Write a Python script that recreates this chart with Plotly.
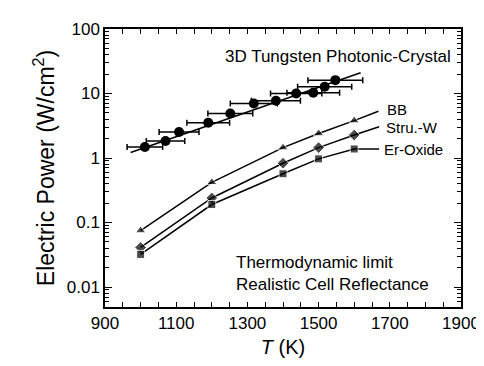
import plotly.graph_objects as go

# --- Data ---
T_model = [1000, 1200, 1400, 1500, 1600]
bb_power = [0.075, 0.42, 1.45, 2.4, 3.8]
struw_power = [0.041, 0.24, 0.83, 1.45, 2.27]
eroxide_power = [0.032, 0.19, 0.57, 0.97, 1.38]

# leader lines from last model point to the label
leader_T = [1668, 1670, 1670]
leader_P = [5.3, 3.06, 1.38]

# 3D tungsten photonic crystal measurements
pc_T = [1012, 1070, 1108, 1190, 1252, 1318, 1380, 1437, 1485, 1517, 1547]
pc_P = [1.48, 1.83, 2.53, 3.53, 4.9, 7.0, 7.7, 10.0, 10.3, 12.7, 16.1]
pc_Terr = [50, 54, 56, 60, 63, 66, 69, 72, 74, 76, 77]

# fitted line through the photonic crystal data
fit_T = [972, 1618]
fit_P = [1.22, 21.0]

x_tickvals = [900, 1100, 1300, 1500, 1700, 1900]
y_tickvals = [0.01, 0.1, 1, 10, 100]
y_ticktext = ["0.01", "0.1", "1", "10", "100"]
y_minor = [m * 10.0 ** e for e in range(-3, 2) for m in range(2, 10)]

FONT = "Liberation Sans, Arial, sans-serif"
LW = 1.5

fig = go.Figure()

# fit line
fig.add_trace(go.Scatter(x=fit_T, y=fit_P, mode="lines",
                         line=dict(color="black", width=LW), showlegend=False))
# photonic crystal points
fig.add_trace(go.Scatter(x=pc_T, y=pc_P, mode="markers",
                         marker=dict(symbol="circle", size=10, color="black"),
                         error_x=dict(type="data", array=pc_Terr, color="black",
                                      thickness=1.5, width=3),
                         showlegend=False))

series = [
    (bb_power, "triangle-up", 9, 0),
    (struw_power, "diamond", 9, 1),
    (eroxide_power, "square", 8, 2),
]
for vals, sym, sz, i in series:
    fig.add_trace(go.Scatter(x=T_model + [leader_T[i]], y=vals + [leader_P[i]],
                             mode="lines+markers",
                             line=dict(color="black", width=LW),
                             marker=dict(symbol=sym, size=[sz] * len(vals) + [0],
                                         color="black"),
                             showlegend=False))

anns = [
    dict(x=1878, y=1.574, text="3D Tungsten Photonic-Crystal", xanchor="right",
         yanchor="middle", size=17),
    dict(x=1263, y=-1.793, text="Thermodynamic limit<br>Realistic Cell Reflectance",
         xanchor="left", yanchor="middle", size=17),
    dict(x=1686, y=0.758, text="BB", xanchor="left", yanchor="middle", size=15),
    dict(x=1683, y=0.475, text="Stru.-W", xanchor="left", yanchor="middle", size=15),
    dict(x=1677, y=0.135, text="Er-Oxide", xanchor="left", yanchor="middle", size=15),
]
for a in anns:
    fig.add_annotation(x=a["x"], y=a["y"], text=a["text"], xanchor=a["xanchor"],
                       yanchor=a["yanchor"], showarrow=False, align="left",
                       font=dict(family=FONT, size=a["size"], color="black"))

fig.update_layout(
    width=484, height=366,
    margin=dict(l=97, r=24, t=19, b=67),
    paper_bgcolor="white", plot_bgcolor="white",
    font=dict(family=FONT, color="black"),
    showlegend=False,
)
fig.update_xaxes(
    range=[900, 1900], tickmode="array", tickvals=x_tickvals,
    ticks="inside", ticklen=5, tickwidth=1.2, tickcolor="black",
    minor=dict(ticks="inside", dtick=50, ticklen=5, tickwidth=1.2, tickcolor="black"),
    showline=True, linecolor="black", linewidth=1.5, mirror="allticks",
    showgrid=False, zeroline=False,
    tickfont=dict(size=17, family=FONT),
    title=dict(text="<i>T</i> (K)", font=dict(size=20, family=FONT), standoff=8),
)
fig.update_yaxes(
    type="log", range=[-2.31, 2], tickmode="array", tickvals=y_tickvals,
    ticktext=y_ticktext,
    ticks="inside", ticklen=7, tickwidth=1.2, tickcolor="black",
    minor=dict(ticks="inside", tickmode="array", tickvals=y_minor, ticklen=4,
               tickwidth=1, tickcolor="black"),
    showline=True, linecolor="black", linewidth=1.5, mirror="allticks",
    showgrid=False, zeroline=False,
    tickfont=dict(size=17, family=FONT),
    title=dict(text="Electric Power (W/cm<sup>2</sup>)", font=dict(size=23, family=FONT),
               standoff=6),
)

fig.write_html("out.html")
